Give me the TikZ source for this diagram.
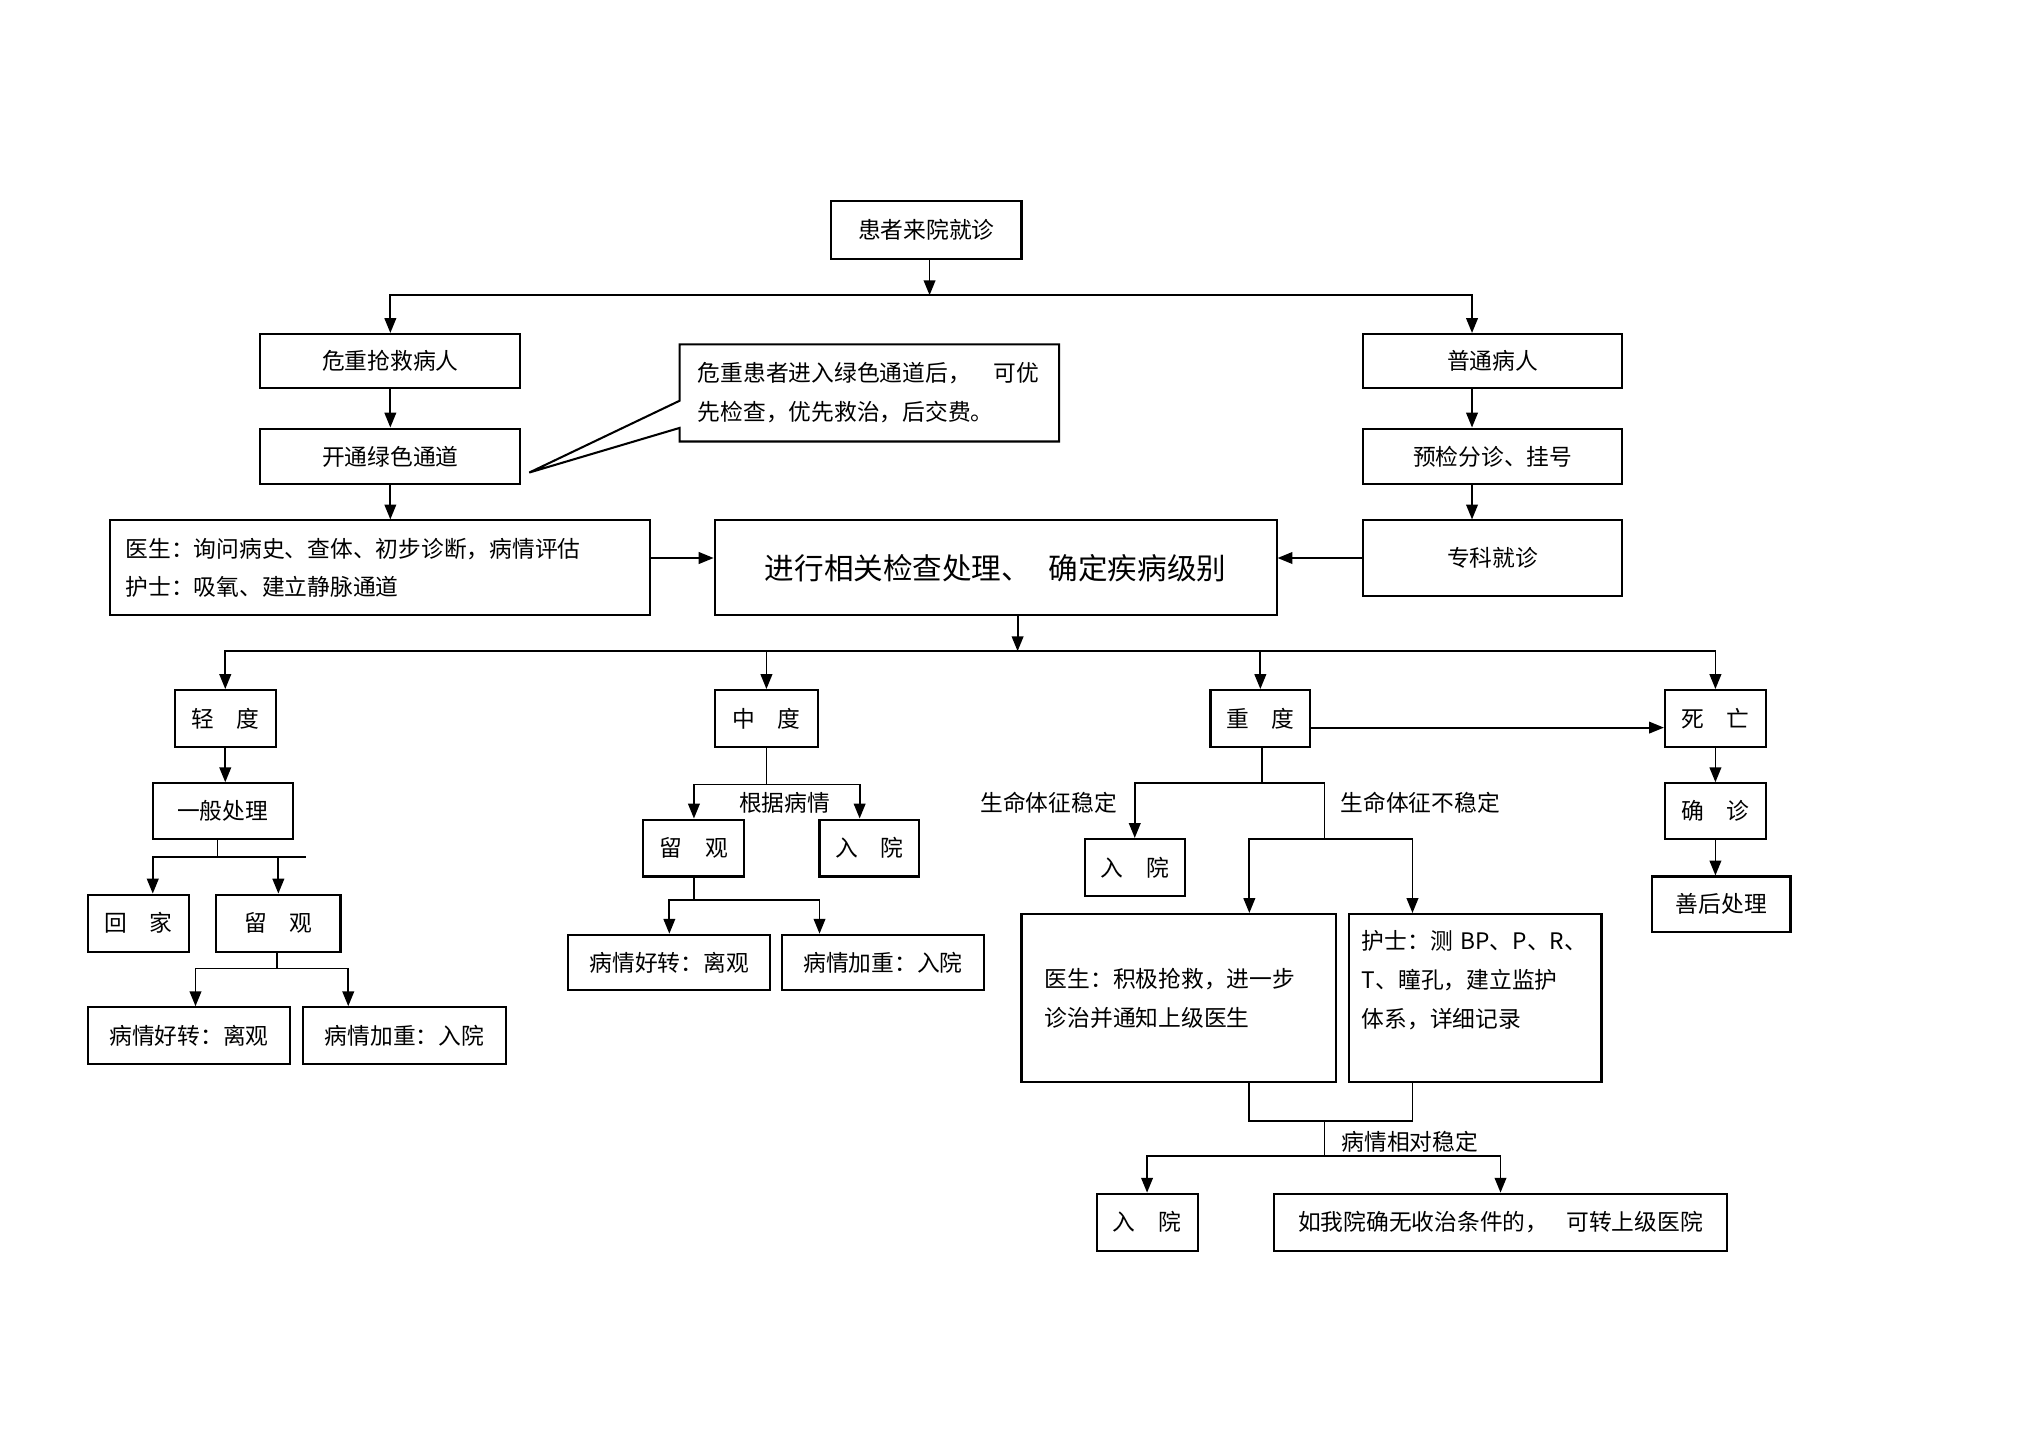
\documentclass[tikz,border=0pt]{standalone}
\usepackage{fontspec}
\setmainfont{Noto Sans CJK SC}
\usetikzlibrary{arrows.meta,shapes.callouts}

\begin{document}
\begin{tikzpicture}[x=1cm,y=1cm]
\tikzset{
  flowbox/.style={rectangle,draw,line width=0.9pt,inner sep=0pt,font=\fontsize{10}{17}\selectfont},
  textbox/.style={flowbox,align=left},
  smallbox/.style={flowbox,minimum width=1.56cm,minimum height=0.88cm},
  directed/.style={-{Triangle[length=2.3mm,width=1.8mm]},line width=0.8pt},
  undirected/.style={line width=0.8pt},
  branchlabel/.style={inner sep=1pt,font=\fontsize{10}{12}\selectfont}
}
\useasboundingbox (0,0) rectangle (31.36,-22.16);
% top part
\node[flowbox,minimum width=2.94cm,minimum height=0.90cm] (n_start) at (14.31,-3.55) {患者来院就诊};
\node[flowbox,minimum width=4.02cm,minimum height=0.84cm] (n_crit) at (6.03,-5.58) {危重抢救病人};
\node[flowbox,minimum width=4.02cm,minimum height=0.86cm] (n_green) at (6.03,-7.05) {开通绿色通道};
\node[textbox,rectangle callout,text width=5.30cm,minimum width=5.86cm,minimum height=1.50cm,
  callout absolute pointer={([xshift=0.12cm,yshift=-0.25cm]n_green.east)},callout pointer width=0.42cm]
  (n_note) at (13.43,-6.07) {危重患者进入绿色通道后，\quad 可优\\先检查，优先救治，后交费。};
\node[textbox,text width=7.86cm,minimum width=8.34cm,minimum height=1.46cm] (n_doc) at (5.87,-8.77) {医生：询问病史、查体、初步诊断，病情评估\\护士：吸氧、建立静脉通道};
\node[flowbox,minimum width=8.68cm,minimum height=1.46cm,font=\fontsize{13}{16}\selectfont] (n_check) at (15.38,-8.77) {进行相关检查处理、\hspace{0.6em}确定疾病级别};
\node[flowbox,minimum width=4.00cm,minimum height=0.84cm] (n_norm) at (23.06,-5.58) {普通病人};
\node[flowbox,minimum width=4.00cm,minimum height=0.86cm] (n_triage) at (23.06,-7.05) {预检分诊、挂号};
\node[flowbox,minimum width=4.00cm,minimum height=1.16cm] (n_spec) at (23.06,-8.62) {专科就诊};
% grades
\node[smallbox] (n_mild) at (3.48,-11.10) {轻\quad 度};
\node[smallbox,minimum width=1.60cm] (n_mod) at (11.84,-11.10) {中\quad 度};
\node[smallbox,minimum width=1.54cm] (n_sev) at (19.47,-11.10) {重\quad 度};
\node[smallbox] (n_dead) at (26.50,-11.10) {死\quad 亡};
% mild
\node[smallbox,minimum width=2.16cm,minimum height=0.86cm] (n_general) at (3.44,-12.53) {一般处理};
\node[smallbox] (n_home) at (2.14,-14.26) {回\quad 家};
\node[smallbox,minimum width=1.92cm] (n_obs1) at (4.30,-14.26) {留\quad 观};
\node[smallbox,minimum width=3.12cm] (n_better1) at (2.92,-16.00) {病情好转：离观};
\node[smallbox,minimum width=3.14cm] (n_worse1) at (6.25,-16.00) {病情加重：入院};
% moderate
\node[smallbox] (n_obs2) at (10.72,-13.10) {留\quad 观};
\node[smallbox,minimum width=1.54cm] (n_adm1) at (13.43,-13.10) {入\quad 院};
\node[smallbox,minimum width=3.12cm,minimum height=0.86cm] (n_better2) at (10.34,-14.87) {病情好转：离观};
\node[smallbox,minimum width=3.12cm,minimum height=0.86cm] (n_worse2) at (13.64,-14.87) {病情加重：入院};
% severe
\node[smallbox,minimum width=1.54cm] (n_adm2) at (17.53,-13.40) {入\quad 院};
\node[textbox,text width=4.14cm,minimum width=4.86cm,minimum height=2.60cm] (n_docact) at (18.21,-15.42) {医生：积极抢救，进一步\\诊治并通知上级医生};
\node[textbox,text width=3.50cm,minimum width=3.90cm,minimum height=2.60cm] (n_nurse) at (22.79,-15.42) {护士：测 BP、P、R、\\T、瞳孔，建立监护\\体系，详细记录\\\mbox{}};
\node[smallbox] (n_adm3) at (17.72,-18.88) {入\quad 院};
\node[smallbox,minimum width=7.00cm] (n_transfer) at (23.18,-18.88) {如我院确无收治条件的，\hspace{0.8em}可转上级医院};
% death
\node[smallbox,minimum height=0.86cm] (n_confirm) at (26.50,-12.53) {确\quad 诊};
\node[smallbox,minimum width=2.14cm,minimum height=0.86cm] (n_after) at (26.59,-13.97) {善后处理};
% labels
\node[branchlabel] (l_cond) at (12.12,-12.40) {根据病情};
\node[branchlabel] (l_stable) at (16.20,-12.40) {生命体征稳定};
\node[branchlabel] (l_unstable) at (21.94,-12.40) {生命体征不稳定};
\node[branchlabel] (l_relstable) at (21.78,-17.64) {病情相对稳定};
% junctions
\coordinate (j_top) at (14.36,-4.56);
\coordinate (j_grade) at (15.72,-10.06);
\coordinate (j_mild) at (3.36,-13.24);
\coordinate (j_obs1) at (4.28,-14.96);
\coordinate (j_mod) at (11.84,-12.12);
\coordinate (j_obs2) at (10.72,-13.90);
\coordinate (j_sev) at (19.50,-12.10);
\coordinate (j_unst) at (20.46,-12.96);
\coordinate (j_merge) at (20.46,-17.32);
\coordinate (j_split) at (20.46,-17.86);
% connectors
\draw[directed] (n_start.south -| j_top) -- (j_top);
\draw[directed] (j_top) -| (n_crit);
\draw[directed] (j_top) -| ([xshift=-0.32cm]n_norm.north);
\draw[directed] (n_crit) -- (n_green);
\draw[directed] (n_green.south) -- (n_green.south |- n_doc.north);
\draw[directed] ([xshift=-0.32cm]n_norm.south) -- ([xshift=-0.32cm]n_triage.north);
\draw[directed] ([xshift=-0.32cm]n_triage.south) -- ([xshift=-0.32cm]n_spec.north);
\draw[directed] (n_doc.east |- n_spec) -- (n_check.west |- n_spec);
\draw[directed] (n_spec.west) -- (n_spec.west -| n_check.east);
\draw[directed] (n_check.south -| j_grade) -- (j_grade);
\draw[directed] (j_grade) -| (n_mild);
\draw[directed] (j_grade) -| (n_mod);
\draw[directed] (j_grade) -| (n_sev);
\draw[directed] (j_grade) -| (n_dead);
\draw[directed] (n_mild.south) -- (n_mild.south |- n_general.north);
\draw[undirected] (n_general.south -| j_mild) -- (j_mild) -- ++(1.36,0);
\draw[directed] (j_mild) -| ([xshift=0.22cm]n_home.north);
\draw[directed] (j_mild) -| (n_obs1);
\draw[undirected] (n_obs1.south -| j_obs1) -- (j_obs1);
\draw[directed] (j_obs1) -| ([xshift=0.10cm]n_better1.north);
\draw[directed] (j_obs1) -| ([xshift=-0.87cm]n_worse1.north);
\draw[undirected] (n_mod) -- (j_mod);
\draw[directed] (j_mod) -| (n_obs2);
\draw[directed] (j_mod) -| ([xshift=-0.15cm]n_adm1.north);
\draw[undirected] (n_obs2) -- (j_obs2);
\draw[directed] (j_obs2) -| (n_better2);
\draw[directed] (j_obs2) -| ([xshift=-0.98cm]n_worse2.north);
\draw[undirected] (n_sev.south -| j_sev) -- (j_sev);
\draw[directed] (j_sev) -| (n_adm2);
\draw[undirected] (j_sev) -| (j_unst);
\draw[directed] (j_unst) -| ([xshift=1.09cm]n_docact.north);
\draw[directed] (j_unst) -| ([xshift=-0.97cm]n_nurse.north);
\draw[undirected] ([xshift=1.09cm]n_docact.south) |- (j_merge);
\draw[undirected] ([xshift=-0.97cm]n_nurse.south) |- (j_merge);
\draw[undirected] (j_merge) -- (j_split);
\draw[directed] (j_split) -| (n_adm3);
\draw[directed] (j_split) -| (n_transfer);
\draw[directed] ([yshift=-0.14cm]n_sev.east) -- ([yshift=-0.14cm]n_dead.west);
\draw[directed] (n_dead) -- (n_confirm);
\draw[directed] (n_confirm.south) -- (n_confirm.south |- n_after.north);
\end{tikzpicture}
\end{document}
